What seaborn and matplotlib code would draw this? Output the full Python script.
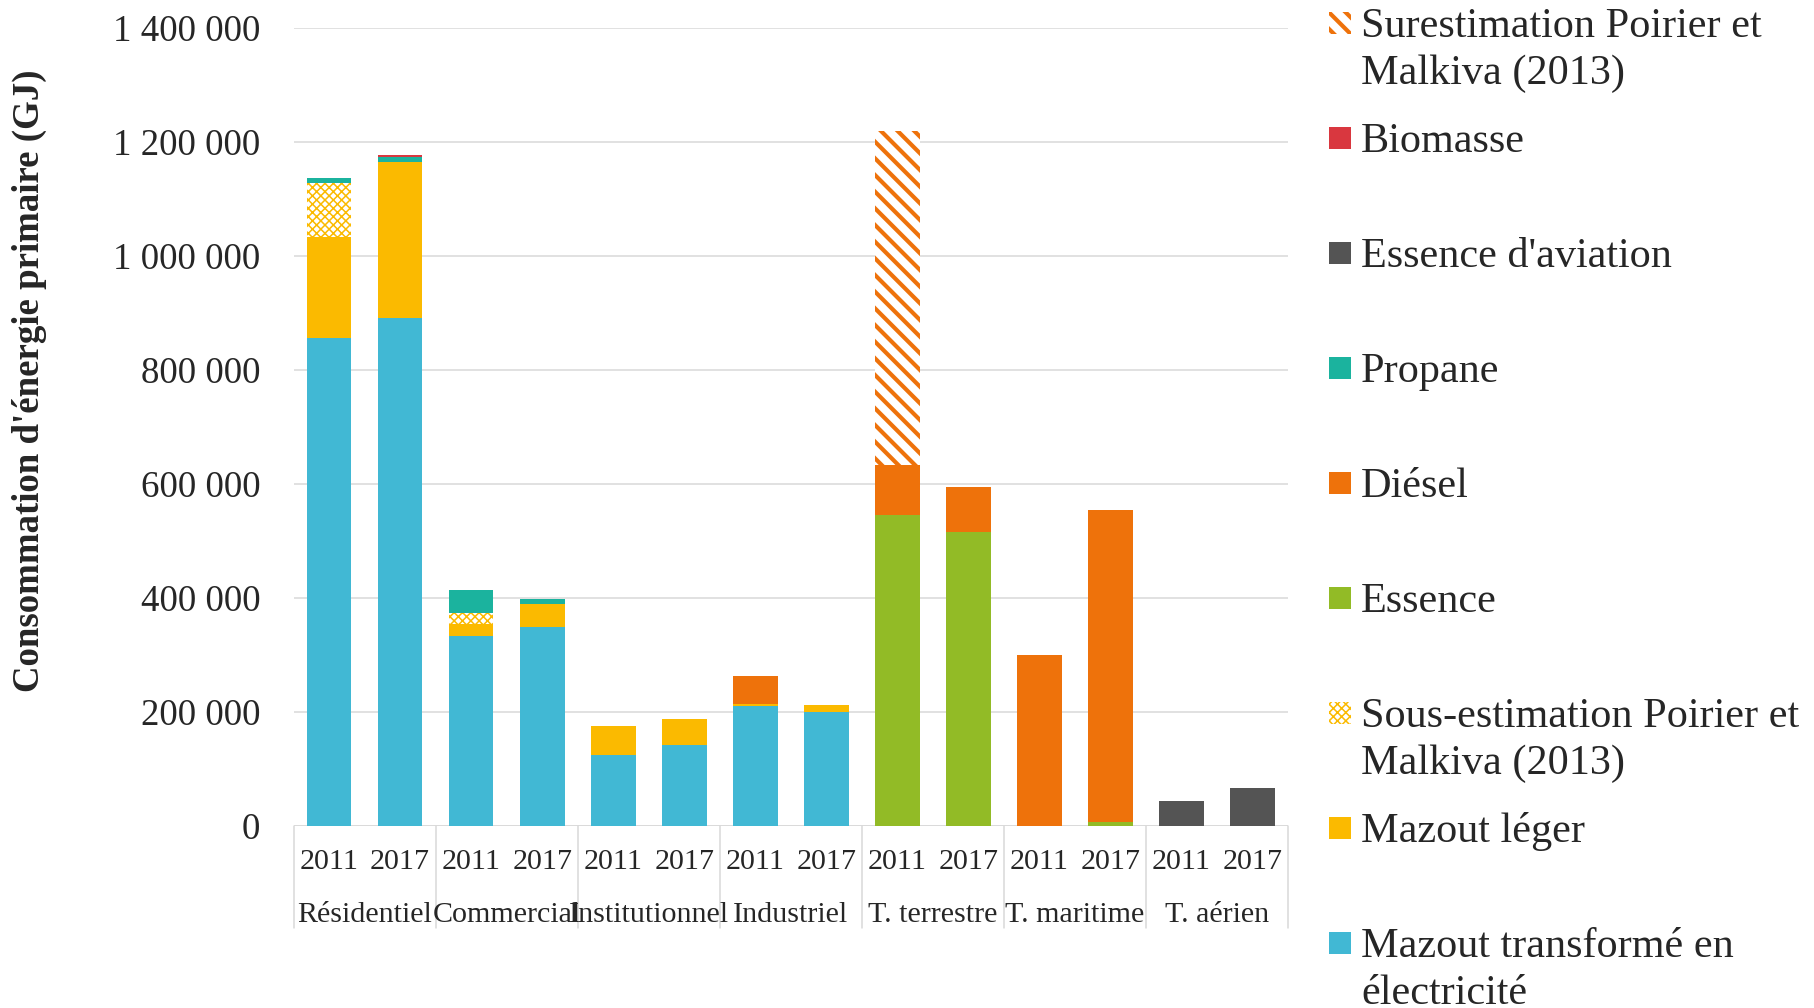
import numpy as np
import pandas as pd
import matplotlib.pyplot as plt
import matplotlib.patches as mpatches
import matplotlib.transforms as mtransforms
from matplotlib.ticker import FuncFormatter
import seaborn as sns

sns.set_style("white")
plt.rcParams["font.family"] = ["Liberation Serif", "DejaVu Serif"]

# Données (GJ), 14 barres : chaque secteur en 2011 puis 2017
categories = ["Résidentiel", "Commercial", "Institutionnel", "Industriel",
              "T. terrestre", "T. maritime", "T. aérien"]
years = ["2011", "2017"]

mazout_elec = [855000, 891000, 333000, 348000, 124000, 142000, 210000, 200000,
               0, 0, 0, 0, 0, 0]
mazout_leger = [178000, 274000, 21000, 41000, 51000, 45000, 4000, 11000,
                0, 0, 0, 0, 0, 0]
sous_estimation = [95000, 0, 20000, 0, 0, 0, 0, 0, 0, 0, 0, 0, 0, 0]
essence = [0, 0, 0, 0, 0, 0, 0, 0, 545000, 515000, 0, 6000, 0, 0]
diesel = [0, 0, 0, 0, 0, 0, 48000, 0, 88000, 80000, 300000, 547000, 0, 0]
propane = [8000, 9000, 40000, 8000, 0, 0, 0, 0, 0, 0, 0, 0, 0, 0]
essence_aviation = [0, 0, 0, 0, 0, 0, 0, 0, 0, 0, 0, 0, 44000, 66000]
biomasse = [0, 3000, 0, 0, 0, 0, 0, 0, 0, 0, 0, 0, 0, 0]
surestimation = [0, 0, 0, 0, 0, 0, 0, 0, 586000, 0, 0, 0, 0, 0]

# Séries dans l'ordre d'empilement (du bas vers le haut)
layers = [
    ("Mazout transformé en\nélectricité", mazout_elec, "#41B8D4", None),
    ("Mazout léger", mazout_leger, "#FBBA00", None),
    ("Sous-estimation Poirier et\nMalkiva (2013)", sous_estimation, "#FBBA00", "xxxx"),
    ("Essence", essence, "#92BB26", None),
    ("Diésel", diesel, "#EE720B", None),
    ("Propane", propane, "#1BB39E", None),
    ("Essence d'aviation", essence_aviation, "#545454", None),
    ("Biomasse", biomasse, "#D9373F", None),
    ("Surestimation Poirier et\nMalkiva (2013)", surestimation, "#EE720B", "\\\\"),
]
hatch_lw = {"xxxx": 1.1, "\\\\": 3.0}

bars = [f"{c} {y}" for c in categories for y in years]
grid_color = "#D9D9D9"

W, H = 1814, 1008
fig = plt.figure(figsize=(W / 100, H / 100), dpi=100)
ax = fig.add_axes([293.5 / W, 1 - 825.7 / H, (1288 - 293.5) / W, (825.7 - 27.7) / H])

bottom = np.zeros(len(bars))
for name, vals, color, hatch in layers:
    df = pd.DataFrame({"barre": bars, "valeur": vals})
    if hatch:
        plt.rcParams["hatch.linewidth"] = hatch_lw[hatch]
        kw = dict(color="white", facecolor="white", edgecolor=color, hatch=hatch)
    else:
        kw = dict(color=color, facecolor=color, edgecolor=color)
    sns.barplot(data=df, x="barre", y="valeur", order=bars, bottom=bottom,
                width=0.63, errorbar=None, linewidth=0, ax=ax, **kw)
    if hatch:
        for p in ax.containers[-1]:
            if hasattr(p, "set_hatch_linewidth"):
                p.set_hatch_linewidth(hatch_lw[hatch])
    bottom = bottom + np.array(vals)

ax.set_xlim(-0.5, len(bars) - 0.5)
ax.set_ylim(0, 1400000)
ax.set_yticks(np.arange(0, 1400001, 200000))
ax.yaxis.set_major_formatter(FuncFormatter(lambda v, p: f"{int(v):,}".replace(",", " ")))
ax.set_xticks(range(len(bars)))
ax.set_xticklabels(years * len(categories))
ax.set_xlabel("")
ax.set_ylabel("")
ax.tick_params(axis="y", length=0, pad=24, labelsize=26.6)
ax.tick_params(axis="x", length=0, pad=17, labelsize=21.6)

ax.set_axisbelow(True)
ax.yaxis.grid(True, color=grid_color, linewidth=1.1)
ax.xaxis.grid(False)
for s in ax.spines.values():
    s.set_visible(False)
ax.axhline(0, color=grid_color, linewidth=1.1, zorder=0.5)

trans = mtransforms.blended_transform_factory(ax.transData, ax.transAxes)
for b in np.arange(-0.5, len(bars), 2):
    ax.plot([b, b], [0, -0.128], transform=trans, color=grid_color,
            linewidth=1.1, clip_on=False)
for i, cat in enumerate(categories):
    ax.text(2 * i + 0.5, -0.1207, cat, transform=trans, ha="center",
            va="baseline", fontsize=21.6)

fig.text(29 / W, 1 - 381 / H, "Consommation d'énergie primaire (GJ)",
         rotation=90, ha="center", va="center", fontsize=26.6, fontweight="bold")

# Légende à droite, façon Excel
for i, (name, vals, color, hatch) in enumerate(layers[::-1]):
    yc = 23 + 115 * i
    sq = 22
    if hatch:
        plt.rcParams["hatch.linewidth"] = hatch_lw[hatch]
        rect = mpatches.Rectangle((1329 / W, 1 - (yc + sq / 2) / H), sq / W, sq / H,
                                  transform=fig.transFigure, facecolor="white",
                                  edgecolor=color, hatch=hatch, linewidth=0)
        if hasattr(rect, "set_hatch_linewidth"):
            rect.set_hatch_linewidth(hatch_lw[hatch])
    else:
        rect = mpatches.Rectangle((1329 / W, 1 - (yc + sq / 2) / H), sq / W, sq / H,
                                  transform=fig.transFigure, facecolor=color,
                                  linewidth=0)
    fig.add_artist(rect)
    for j, line in enumerate(name.split("\n")):
        fig.text(1361 / W, 1 - (yc + 14 + 47 * j) / H, line, ha="left",
                 va="baseline", fontsize=30.4)

fig.savefig("out.png", dpi=100)
